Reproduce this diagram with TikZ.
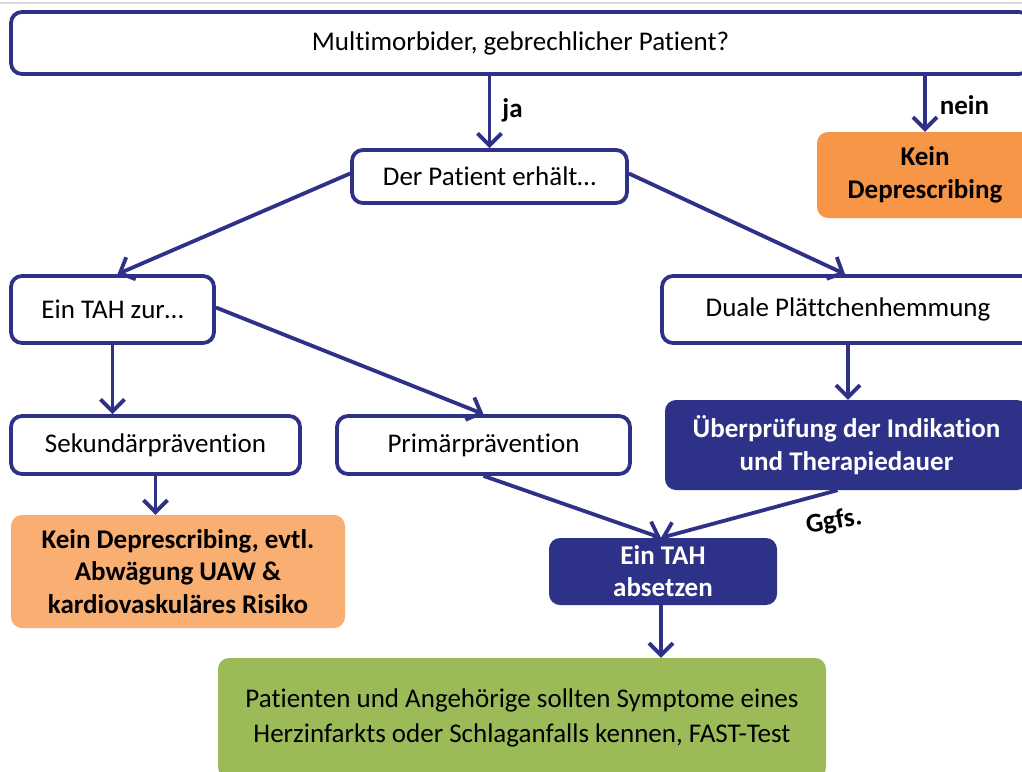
\documentclass[tikz,border=0pt]{standalone}
\usepackage{fontspec}
\setmainfont{Carlito}[Ligatures={NoCommon}]
\usetikzlibrary{arrows.meta}
\definecolor{navy}{HTML}{2E3188}
\definecolor{orangeA}{HTML}{F79646}
\definecolor{orangeB}{HTML}{FAAF72}
\definecolor{leaf}{HTML}{9BBB59}
\begin{document}
\begin{tikzpicture}[x=1pt,y=-1pt,
  base/.style={rounded corners=11pt, align=center, inner sep=0pt, text=black},
  outline/.style={base, draw=navy, line width=3.8pt, fill=white, font=\fontsize{27}{33}\selectfont},
  navybox/.style={base, fill=navy, text=white, font=\bfseries\fontsize{27}{33}\selectfont},
  warnbox/.style={base, font=\bfseries\fontsize{27}{32.5}\selectfont},
  flow/.style={draw=navy, line width=3.8pt, -{Straight Barb[length=12pt,width=24pt,line width=3.8pt]}},
  tag/.style={font=\bfseries\fontsize{27}{30}\selectfont, text=black, inner sep=1pt}]
\useasboundingbox (0,0) rectangle (1022,771);
\clip (0,0) rectangle (1022,771);
\fill[white] (0,0) rectangle (1022,771);
\draw[gray!30, line width=1.5pt] (0,3) -- (1022,3);

% boxes
\node[outline, minimum width=1019pt, minimum height=62pt] (top) at (520.5,43) {Multimorbider, gebrechlicher Patient?};
\node[warnbox, fill=orangeA, minimum width=216pt, minimum height=86pt] (kein1) at (925,175) {Kein\\Deprescribing};
\node[outline, minimum width=275pt, minimum height=53pt] (patient) at (489.5,176.5) {Der Patient erhält…};
\node[outline, minimum width=203pt, minimum height=67pt] (tahzur) at (112.5,309.5) {Ein TAH zur…};
\node[outline, minimum width=372pt, minimum height=67pt] (duale) at (848,309.5) {Duale Plättchenhemmung};
\node[outline, minimum width=289pt, minimum height=58pt] (sek) at (155.5,445) {Sekundärprävention};
\node[outline, minimum width=293pt, minimum height=58pt] (prim) at (483.5,445) {Primärprävention};
\node[navybox, minimum width=363pt, minimum height=90pt] (ueber) at (846.5,445) {Überprüfung der Indikation\\und Therapiedauer};
\node[warnbox, fill=orangeB, minimum width=334pt, minimum height=113pt] (kein2) at (178,571.5) {Kein Deprescribing, evtl.\\Abwägung UAW \&\\kardiovaskuläres Risiko};
\node[navybox, font=\bfseries\fontsize{27}{32}\selectfont, minimum width=228pt, minimum height=67pt] (absetzen) at (663,571.5) {Ein TAH\\absetzen};
\node[base, fill=leaf, font=\fontsize{27}{35}\selectfont, minimum width=608pt, minimum height=120pt] (green) at (522,718) {Patienten und Angehörige sollten Symptome eines\\Herzinfarkts oder Schlaganfalls kennen, FAST-Test};

% connectors
\draw[flow] (patient.north |- top.south) -- (patient.north) node[tag, midway, anchor=west, xshift=10pt, yshift=2pt] {ja};
\draw[flow] (kein1.north |- top.south) -- (kein1.north) node[tag, midway, anchor=west, xshift=12pt, yshift=-1pt] {nein};
\draw[flow] ([yshift=3pt]patient.west) -- ([xshift=5pt]tahzur.north);
\draw[flow] ([yshift=3pt]patient.east) -- ([xshift=-3pt]duale.north);
\draw[flow] (tahzur.south) -- (tahzur.south |- sek.north);
\draw[flow] ([yshift=2pt]tahzur.east) -- (prim.north);
\draw[flow] (sek.south) -- (sek.south |- kein2.north);
\draw[flow] (duale.south) -- (duale.south |- ueber.north);
\draw[flow] (prim.south) -- ([xshift=-2pt]absetzen.north);
\draw[flow] ([xshift=-9pt]ueber.south) -- ([xshift=-2pt]absetzen.north);
\draw[flow] ([xshift=-2pt]absetzen.south) -- ([xshift=-2pt]absetzen.south |- green.north);
\node[tag, rotate=10] (ggfs) at (834,522) {Ggfs.};
\end{tikzpicture}
\end{document}
